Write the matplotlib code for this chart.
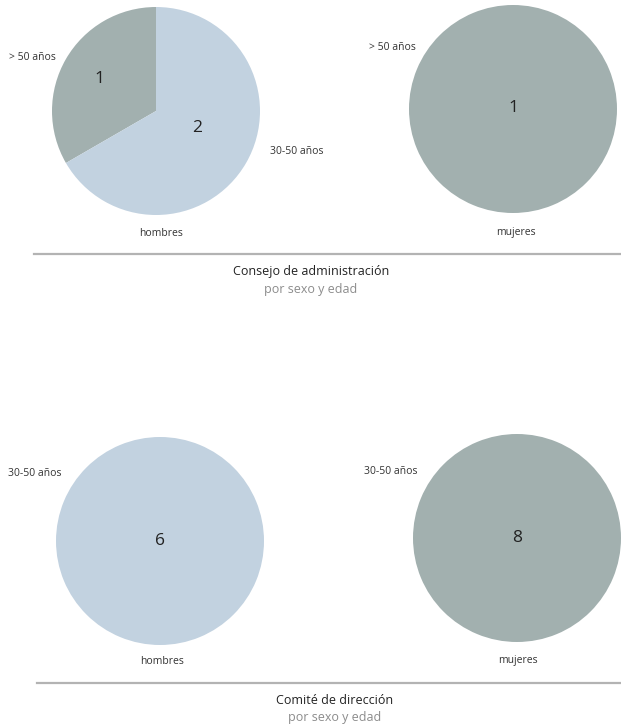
import matplotlib.pyplot as plt

W, H = 621, 726

plt.rcParams['font.family'] = ['Open Sans', 'DejaVu Sans']

BLUE = "#c2d2e0"
GREY = "#a2b0af"

# Consejo de administración
consejo_hombres_labels = ["> 50 años", "30-50 años"]
consejo_hombres_values = [1, 2]
consejo_mujeres_labels = ["> 50 años"]
consejo_mujeres_values = [1]

# Comité de dirección
comite_hombres_labels = ["30-50 años"]
comite_hombres_values = [6]
comite_mujeres_labels = ["30-50 años"]
comite_mujeres_values = [8]


def px(x, y):
    return x / W, 1 - y / H


def pie_axes(fig, cx, cy, r):
    left, bottom = px(cx - r, cy + r)
    ax = fig.add_axes([left, bottom, 2 * r / W, 2 * r / H])
    ax.axis("off")
    return ax


def draw_pie(ax, values, colors, num_pos):
    ax.pie(values, colors=colors, startangle=90, counterclock=True,
           radius=1, wedgeprops=dict(linewidth=0))
    ax.set_xlim(-1, 1)
    ax.set_ylim(-1, 1)
    for v, (x, y) in zip(values, num_pos):
        ax.text(x, y, str(v), ha="center", va="center", fontsize=12.5, color="#222222")


fig = plt.figure(figsize=(W / 100, H / 100), dpi=100)

# top-left
ax1 = pie_axes(fig, 156, 111, 104)
draw_pie(ax1, consejo_hombres_values, [GREY, BLUE], [(-0.54, 0.31), (0.40, -0.16)])
# top-right
ax2 = pie_axes(fig, 513, 109, 104)
draw_pie(ax2, consejo_mujeres_values, [GREY], [(0, 0.01)])
# bottom-left
ax3 = pie_axes(fig, 160, 541, 104)
draw_pie(ax3, comite_hombres_values, [BLUE], [(0, 0)])
# bottom-right
ax4 = pie_axes(fig, 517, 538, 104)
draw_pie(ax4, comite_mujeres_values, [GREY], [(0, 0)])

small = dict(fontsize=7.5, color="#333333", va="center")

fig.text(*px(32, 57), consejo_hombres_labels[0], ha="center", **small)
fig.text(*px(297, 152), consejo_hombres_labels[1], ha="center", **small)
fig.text(*px(392, 47), consejo_mujeres_labels[0], ha="center", **small)
fig.text(*px(35, 473), comite_hombres_labels[0], ha="center", **small)
fig.text(*px(391, 472), comite_mujeres_labels[0], ha="center", **small)

fig.text(*px(161, 233), "hombres", ha="center", **small)
fig.text(*px(516, 232), "mujeres", ha="center", **small)
fig.text(*px(162, 661), "hombres", ha="center", **small)
fig.text(*px(518, 660), "mujeres", ha="center", **small)

for y, x0 in [(254, 34), (683, 37)]:
    fig.add_artist(plt.Line2D([x0 / W, 1], [1 - y / H, 1 - y / H],
                              color="#b3b3b3", linewidth=1.6, transform=fig.transFigure))

fig.text(*px(311, 271), "Consejo de administración", ha="center", va="center",
         fontsize=9, color="#222222")
fig.text(*px(311, 289), "por sexo y edad", ha="center", va="center",
         fontsize=9, color="#8c8c8c")
fig.text(*px(335, 700), "Comité de dirección", ha="center", va="center",
         fontsize=9, color="#222222")
fig.text(*px(335, 718), "por sexo y edad", ha="center", va="center",
         fontsize=9, color="#8c8c8c")

fig.savefig("out.png", dpi=100, facecolor="white")
